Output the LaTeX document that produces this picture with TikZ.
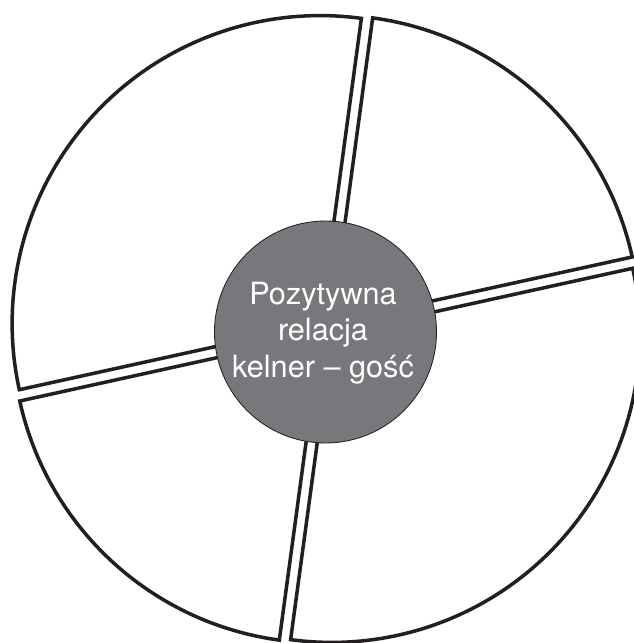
\documentclass[tikz,border=0pt]{standalone}
\usepackage{fontspec}
\usepackage{xcolor}
\usepackage{tikz}
\usetikzlibrary{positioning,calc}
\newfontfamily\hubfont[Ligatures=TeX]{TeX Gyre Heros}
\definecolor{outline}{RGB}{35,31,32}
\definecolor{hubgray}{RGB}{119,120,124}
\def\R{308}

\begin{document}
\begin{tikzpicture}[x=0.025cm, y=0.025cm,
        sector/.style={draw=outline, line width=2.5pt, fill=white},
        hub/.style={circle, draw=outline, line width=0.6pt, fill=hubgray, minimum size=222*0.025cm, inner sep=0pt}]
        \useasboundingbox (-326,-314) rectangle (307,329);
        % four sectors, each pushed out along its bisector
        \draw[sector, shift={(137.35:8)}] (0,0) -- (82.3:\R) arc[start angle=82.3, end angle=192.4, radius=\R] -- cycle;
        \draw[sector, shift={(47.35:8)}] (0,0) -- (12.4:\R) arc[start angle=12.4, end angle=82.3, radius=\R] -- cycle;
        \draw[sector, shift={(-42.65:8)}] (0,0) -- (-97.7:\R) arc[start angle=-97.7, end angle=12.4, radius=\R] -- cycle;
        \draw[sector, shift={(227.35:8)}] (0,0) -- (192.4:\R) arc[start angle=192.4, end angle=262.3, radius=\R] -- cycle;
        % centre
        \node[hub] (hub) at (-0.5,-3) {};
        \node[white, align=center, font=\hubfont\fontsize{21.8pt}{26pt}\selectfont] (label) at (-3,-4) {Pozytywna\\relacja\\kelner -- gość};
\end{tikzpicture}
\end{document}
